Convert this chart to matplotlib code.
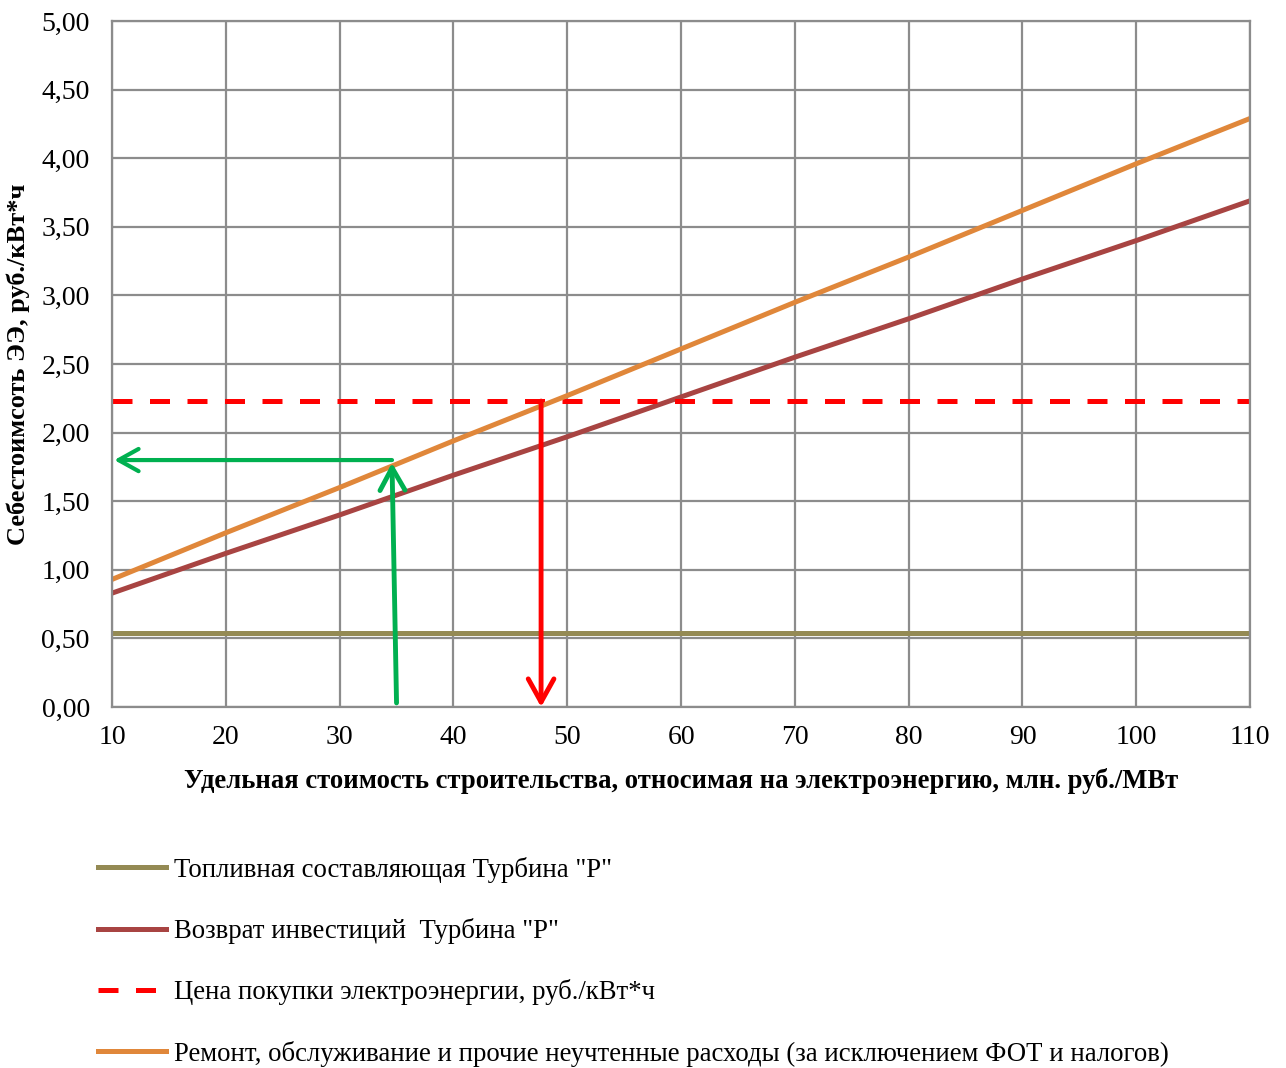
import matplotlib.pyplot as plt
from matplotlib.ticker import FuncFormatter

plt.rcParams["font.family"] = ["Liberation Serif", "DejaVu Serif"]

# data
x_cost = [10, 20, 30, 40, 50, 60, 70, 80, 90, 100, 110]
fuel = [0.54] * 11
invest = [0.83, 1.12, 1.40, 1.69, 1.97, 2.26, 2.55, 2.83, 3.12, 3.40, 3.69]
price = [2.23] * 11
repair = [0.93, 1.27, 1.60, 1.94, 2.27, 2.61, 2.95, 3.28, 3.62, 3.96, 4.29]

labels = [
    'Топливная составляющая Турбина "Р"',
    'Возврат инвестиций  Турбина "Р"',
    "Цена покупки электроэнергии, руб./кВт*ч",
    "Ремонт, обслуживание и прочие неучтенные расходы (за исключением ФОТ и налогов)",
]

# annotation arrows (x, y)
green_up = [(35.0, 0.03), (34.6, 1.78)]
green_left = [(34.6, 1.80), (10.2, 1.80)]
red_down = [(47.7, 2.23), (47.7, 0.0)]

fig = plt.figure(figsize=(12.86, 10.68), dpi=100)
ax = fig.add_axes([0.0871, 0.338, 0.885, 0.6423])

ax.plot(x_cost, fuel, color="#948a54", lw=3.6, label=labels[0])
ax.plot(x_cost, invest, color="#a84442", lw=3.6, label=labels[1])
ax.plot(x_cost, price, color="#ff0000", lw=3.6, dashes=(4, 3.5), label=labels[2])
ax.plot(x_cost, repair, color="#e0873a", lw=3.6, label=labels[3])

head = "->,head_length=0.45,head_width=0.25"
ax.annotate("", xy=green_up[1], xytext=green_up[0],
            arrowprops=dict(arrowstyle=head, mutation_scale=36, shrinkA=0, shrinkB=0,
                            color="#00b050", lw=3.5))
ax.annotate("", xy=green_left[1], xytext=green_left[0],
            arrowprops=dict(arrowstyle=head, mutation_scale=32, shrinkA=0, shrinkB=0,
                            color="#00b050", lw=3))
ax.annotate("", xy=red_down[1], xytext=red_down[0],
            arrowprops=dict(arrowstyle=head, mutation_scale=37, shrinkA=0, shrinkB=0,
                            color="#ff0000", lw=3.5))

ax.set_xlim(10, 110)
ax.set_ylim(0, 5)
ax.set_xticks(range(10, 111, 10))
ax.set_yticks([i * 0.5 for i in range(11)])
ax.yaxis.set_major_formatter(FuncFormatter(lambda v, p: f"{v:.2f}".replace(".", ",")))
ax.grid(True, color="#8c8c8c", lw=1.6)
ax.set_axisbelow(True)
for s in ax.spines.values():
    s.set_color("#8c8c8c")
    s.set_linewidth(1.6)
ax.tick_params(length=0, labelsize=20)
ax.tick_params(axis="x", pad=13)
ax.tick_params(axis="y", pad=16)

ax.set_xlabel("Удельная стоимость строительства, относимая на электроэнергию, млн. руб./МВт",
              fontsize=19.2, fontweight="bold", labelpad=13)
ax.set_ylabel("Себестоимсоть ЭЭ, руб./кВт*ч", fontsize=19, fontweight="bold", labelpad=8)

fig.legend(loc="upper left", bbox_to_anchor=(0.068, 0.208), frameon=False,
           fontsize=19.3, labelspacing=1.32, handlelength=2.52, handletextpad=0.3,
           borderaxespad=0)

fig.savefig("out.png", dpi=100)
